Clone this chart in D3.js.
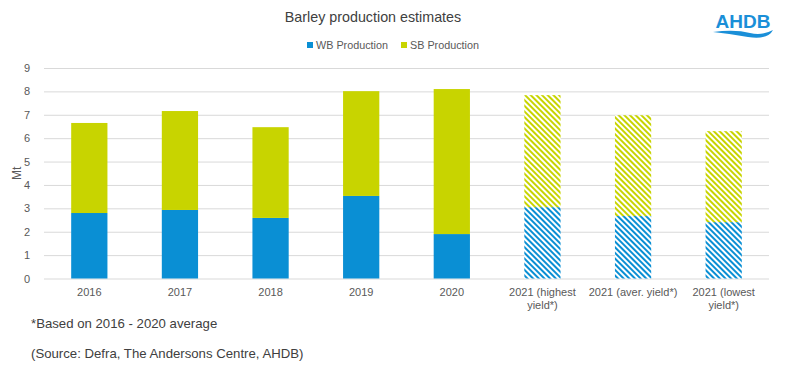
<!DOCTYPE html>
<html>
<head>
<meta charset="utf-8">
<script src="https://cdn.jsdelivr.net/npm/d3@7"></script>
<style>
  body { margin: 0; background: #fff; }
  text { font-family: "Liberation Sans", Arial, sans-serif; }
</style>
</head>
<body>
<svg id="chart" width="796" height="371"></svg>
<script>
var categories = ["2016", "2017", "2018", "2019", "2020", "2021 (highest|yield*)", "2021 (aver. yield*)", "2021 (lowest|yield*)"];
var wbValues = [2.8, 2.93, 2.59, 3.53, 1.9, 3.05, 2.67, 2.41];
var sbValues = [3.85, 4.23, 3.88, 4.48, 6.2, 4.79, 4.31, 3.89];
var forecast = [false, false, false, false, false, true, true, true];
var yTicks = [0, 1, 2, 3, 4, 5, 6, 7, 8, 9];

var blue = "#0a8fd4", green = "#c8d400";

var svg = d3.select("#chart"),
  margin = { top: 68, right: 27, bottom: 92.5, left: 44 },
  width = svg.attr("width") - margin.left - margin.right,
  height = svg.attr("height") - margin.top - margin.bottom,
  g = svg.append("g").attr("transform", "translate(" + margin.left + "," + margin.top + ")");

var defs = svg.append("defs");
[["hatchWB", blue], ["hatchSB", green]].forEach(function(p) {
  var pat = defs.append("pattern")
    .attr("id", p[0])
    .attr("patternUnits", "userSpaceOnUse")
    .attr("width", 4).attr("height", 4)
    .attr("patternTransform", "rotate(-45)");
  pat.append("rect").attr("width", 4).attr("height", 4).attr("fill", "#fff");
  pat.append("rect").attr("width", 2).attr("height", 4).attr("fill", p[1]);
});

var x = d3.scaleBand().domain(categories).range([0, width]).paddingInner(0.6).paddingOuter(0.3);
var y = d3.scaleLinear().domain([0, 9]).range([height, 0]);

// gridlines
g.append("g")
  .selectAll("line")
  .data(yTicks)
  .enter()
  .append("line")
  .attr("x1", 0).attr("x2", width)
  .attr("y1", function(d) { return y(d) + 0.5; })
  .attr("y2", function(d) { return y(d) + 0.5; })
  .attr("stroke", "#d9d9d9").attr("stroke-width", 1);

var yAxis = g.append("g")
  .call(d3.axisLeft(y).tickValues(yTicks).tickSize(0).tickPadding(14));
yAxis.select(".domain").remove();
yAxis.selectAll("text").attr("fill", "#595959").style("font-size", "11px")
  .style("font-family", '"Liberation Sans", Arial, sans-serif');

svg.append("text")
  .attr("transform", "translate(21," + (margin.top + height / 2) + ") rotate(-90)")
  .attr("text-anchor", "middle")
  .attr("fill", "#595959")
  .style("font-size", "12px")
  .text("Mt");

var stackData = categories.map(function(c, i) {
  return { cat: c, wb: wbValues[i], sb: sbValues[i], f: forecast[i] };
});

var bars = g.append("g").selectAll("g")
  .data(stackData)
  .enter()
  .append("g");

bars.append("rect")
  .attr("x", function(d) { return x(d.cat); })
  .attr("width", x.bandwidth())
  .attr("y", function(d) { return y(d.wb); })
  .attr("height", function(d) { return y(0) - y(d.wb); })
  .attr("fill", function(d) { return d.f ? "url(#hatchWB)" : blue; });

bars.append("rect")
  .attr("x", function(d) { return x(d.cat); })
  .attr("width", x.bandwidth())
  .attr("y", function(d) { return y(d.wb + d.sb); })
  .attr("height", function(d) { return y(d.wb) - y(d.wb + d.sb); })
  .attr("fill", function(d) { return d.f ? "url(#hatchSB)" : green; });

// x labels
var xl = g.append("g").attr("transform", "translate(0," + height + ")")
  .selectAll("text")
  .data(categories)
  .enter()
  .append("text")
  .attr("text-anchor", "middle")
  .attr("fill", "#595959")
  .style("font-size", "11px")
  .attr("x", function(d) { return x(d) + x.bandwidth() / 2; })
  .attr("y", 17);
xl.each(function(d) {
  var parts = d.split("|");
  var t = d3.select(this);
  parts.forEach(function(p, i) {
    t.append("tspan").attr("x", x(d) + x.bandwidth() / 2).attr("dy", i === 0 ? 0 : 13).text(p);
  });
});

// title
svg.append("text")
  .attr("x", 373).attr("y", 22)
  .attr("text-anchor", "middle")
  .attr("fill", "#404040")
  .style("font-size", "14.3px")
  .text("Barley production estimates");

// legend
var legend = [["WB Production", blue, 307], ["SB Production", green, 401]];
legend.forEach(function(l) {
  svg.append("rect").attr("x", l[2]).attr("y", 42).attr("width", 6).attr("height", 6).attr("fill", l[1]);
  svg.append("text").attr("x", l[2] + 9).attr("y", 49)
    .attr("fill", "#595959").style("font-size", "10.8px").text(l[0]);
});

// notes
svg.append("text").attr("x", 31).attr("y", 328).attr("fill", "#404040")
  .style("font-size", "13.2px").text("*Based on 2016 - 2020 average");
svg.append("text").attr("x", 31).attr("y", 358).attr("fill", "#404040")
  .style("font-size", "13.2px").text("(Source: Defra, The Andersons Centre, AHDB)");

// logo
svg.append("text").attr("x", 743).attr("y", 28)
  .attr("text-anchor", "middle")
  .attr("fill", "#1a8fd8")
  .style("font-size", "19px").style("font-weight", "bold")
  .text("AHDB");
svg.append("path")
  .attr("d", "M713,32 Q735,29 750,33 Q762,36 773,30 Q768,40 748,37 Q732,34 713,32 Z")
  .attr("fill", "#1a8fd8");
</script>
</body>
</html>
